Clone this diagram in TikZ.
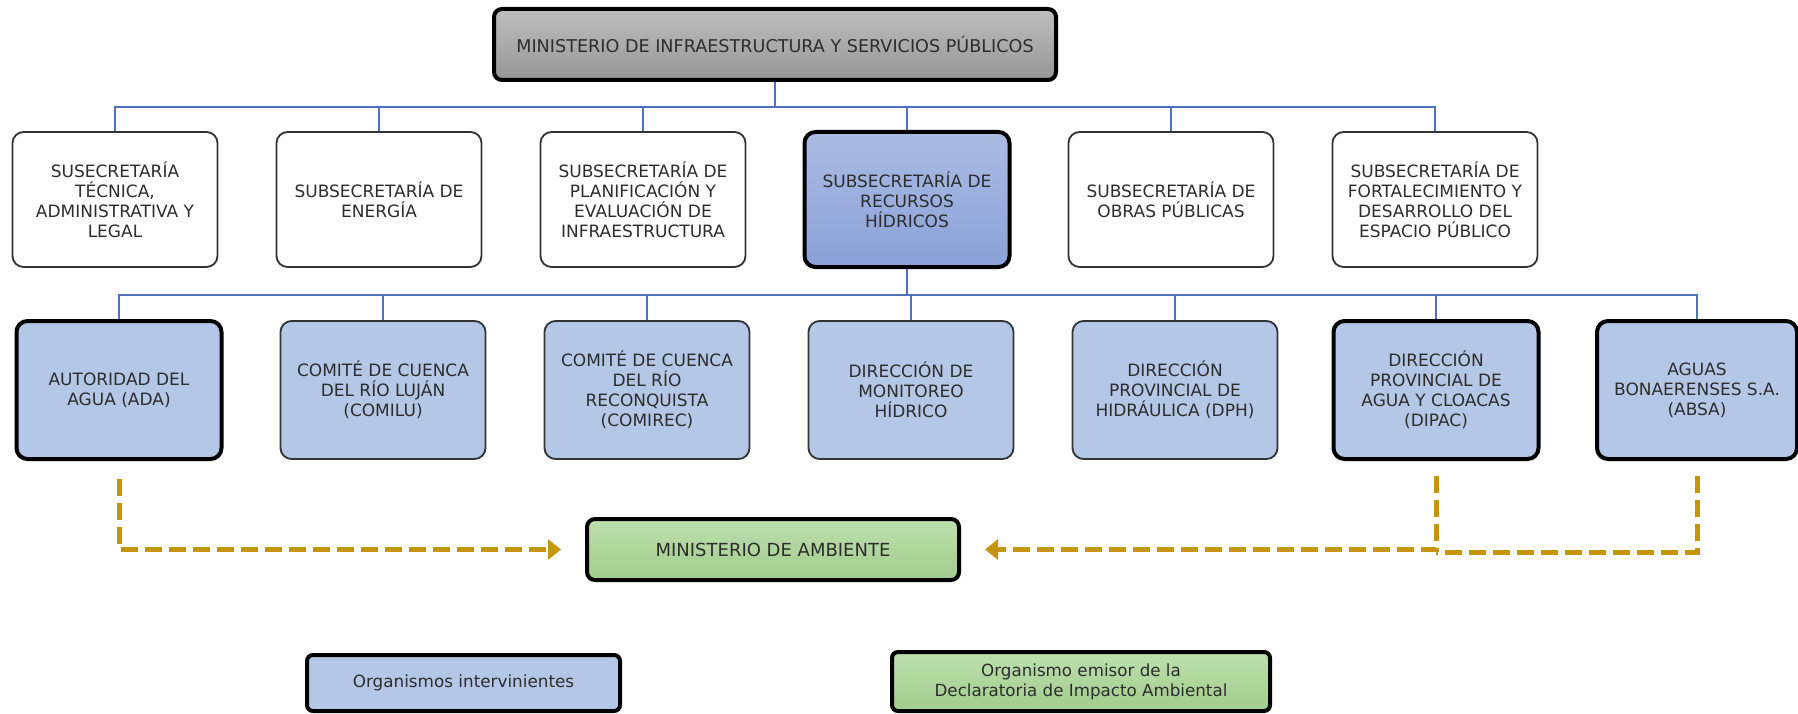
\documentclass[tikz,border=0pt]{standalone}
\usepackage{fontspec}
\setmainfont{DejaVu Sans}
\usetikzlibrary{arrows.meta,calc}
\definecolor{txt}{RGB}{45,45,45}
\definecolor{conn}{RGB}{79,114,190}
\definecolor{gold}{RGB}{197,150,12}
\definecolor{boxblue}{RGB}{180,199,231}
\definecolor{recTop}{RGB}{172,187,227}
\definecolor{recBot}{RGB}{138,161,216}
\definecolor{grayTop}{RGB}{190,190,190}
\definecolor{grayBot}{RGB}{150,150,150}
\definecolor{greenTop}{RGB}{190,223,174}
\definecolor{greenBot}{RGB}{160,205,140}
\tikzset{
  base/.style={rounded corners=11pt, align=center, text=txt, inner sep=4pt,
    font=\fontsize{17}{20}\selectfont},
  heavy/.style={draw=black, line width=4pt},
  light/.style={draw=black!80, line width=1.8pt},
  subbox/.style={base, light, fill=white, minimum width=205pt, minimum height=135pt},
  orgbox/.style={base, light, fill=boxblue, minimum width=205pt, minimum height=138pt},
  orgheavy/.style={orgbox, heavy},
  recbox/.style={base, heavy, top color=recTop, bottom color=recBot, minimum width=205pt, minimum height=135pt},
  topbox/.style={base, heavy, rounded corners=8pt, top color=grayTop, bottom color=grayBot,
    minimum width=562pt, minimum height=71pt, font=\fontsize{17.6}{20}\selectfont},
  ambbox/.style={base, heavy, rounded corners=8pt, top color=greenTop, bottom color=greenBot,
    minimum width=372pt, minimum height=61pt, font=\fontsize{18}{20}\selectfont},
  legblue/.style={base, heavy, rounded corners=6pt, fill=boxblue, minimum width=313pt, minimum height=56pt,
    font=\fontsize{16.8}{20}\selectfont},
  leggreen/.style={base, heavy, rounded corners=6pt, top color=greenTop, bottom color=greenBot,
    minimum width=378pt, minimum height=59pt, font=\fontsize{16.7}{20}\selectfont},
  link/.style={draw=conn, line width=2pt},
  goldline/.style={draw=gold, line width=5pt, dash pattern=on 17pt off 7pt},
  goldarrow/.style={goldline, -{Triangle[length=13pt,width=20pt]}, shorten >=24pt},
}
\begin{document}
\begin{tikzpicture}[x=1pt,y=-1pt]
\useasboundingbox (0,0) rectangle (1798,714);
\node[topbox] (top) at (775,44.5) {MINISTERIO DE INFRAESTRUCTURA Y SERVICIOS PÚBLICOS};
\node[subbox] (s1) at (115,199.5) {SUSECRETARÍA\\TÉCNICA,\\ADMINISTRATIVA Y\\LEGAL};
\node[subbox] (s2) at (379,199.5) {SUBSECRETARÍA DE\\ENERGÍA};
\node[subbox] (s3) at (643,199.5) {SUBSECRETARÍA DE\\PLANIFICACIÓN Y\\EVALUACIÓN DE\\INFRAESTRUCTURA};
\node[recbox] (s4) at (907,199.5) {SUBSECRETARÍA DE\\RECURSOS\\HÍDRICOS};
\node[subbox] (s5) at (1171,199.5) {SUBSECRETARÍA DE\\OBRAS PÚBLICAS};
\node[subbox] (s6) at (1435,199.5) {SUBSECRETARÍA DE\\FORTALECIMIENTO Y\\DESARROLLO DEL\\ESPACIO PÚBLICO};
\node[orgheavy] (o1) at (119,390) {AUTORIDAD DEL\\AGUA (ADA)};
\node[orgbox] (o2) at (383,390) {COMITÉ DE CUENCA\\DEL RÍO LUJÁN\\(COMILU)};
\node[orgbox] (o3) at (647,390) {COMITÉ DE CUENCA\\DEL RÍO\\RECONQUISTA\\(COMIREC)};
\node[orgbox] (o4) at (911,390) {DIRECCIÓN DE\\MONITOREO\\HÍDRICO};
\node[orgbox] (o5) at (1175,390) {DIRECCIÓN\\PROVINCIAL DE\\HIDRÁULICA (DPH)};
\node[orgheavy] (o6) at (1436,390) {DIRECCIÓN\\PROVINCIAL DE\\AGUA Y CLOACAS\\(DIPAC)};
\node[orgheavy, minimum width=200pt] (o7) at (1697,390) {AGUAS\\BONAERENSES S.A.\\(ABSA)};
\node[ambbox] (amb) at (773,549.5) {MINISTERIO DE AMBIENTE};
\node[legblue] (leg1) at (463.5,683) {Organismos intervinientes};
\node[leggreen] (leg2) at (1081,681.5) {Organismo emisor de la\\Declaratoria de Impacto Ambiental};
\coordinate (bus1) at (0,107);
\coordinate (bus2) at (0,295);
\draw[link] (top.south) -- (top.south |- bus1);
\foreach \n in {s1,s2,s3,s4,s5,s6} \draw[link] (top.south |- bus1) -| (\n.north);
\draw[link] (s4.south) -- (s4.south |- bus2);
\foreach \n in {o1,o2,o3,o4,o5,o6,o7} \draw[link] (s4.south |- bus2) -| (\n.north);
\draw[goldarrow] ([yshift=-18pt]o1.south) |- (amb.west);
\draw[goldarrow] ([yshift=-15pt]o6.south) |- (amb.east);
\draw[goldline] ([yshift=-15pt]o7.south) |- ($(o6.south |- amb.east)+(0,3)$);
\end{tikzpicture}
\end{document}
